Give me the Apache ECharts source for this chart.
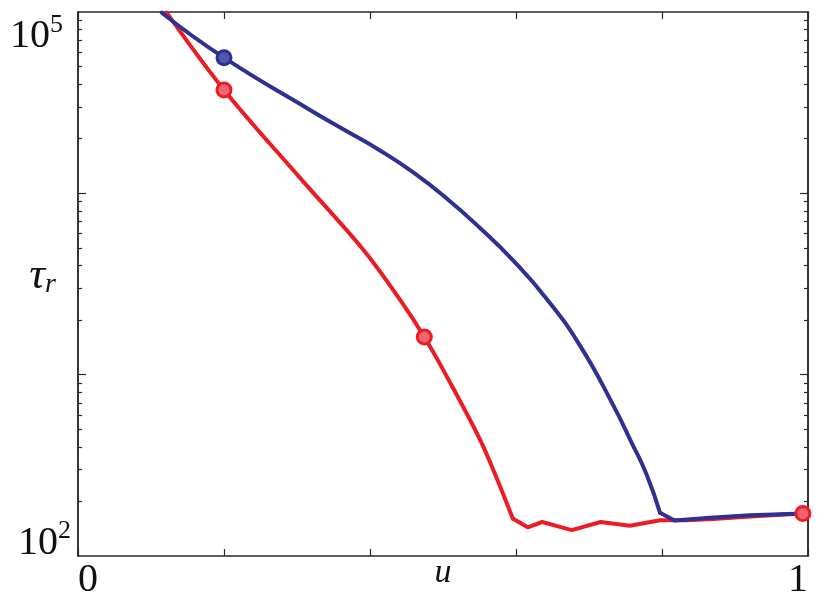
<!DOCTYPE html>
<html><head><meta charset="utf-8">
<script src="https://cdn.jsdelivr.net/npm/echarts@6/dist/echarts.min.js"></script>
<style>html,body{margin:0;padding:0;background:#fff}#c{width:831px;height:599px}</style>
</head><body><div id="c"></div>
<script>
// ---- data ----
const redU   = [0.1215, 0.2, 0.3041, 0.3908, 0.4411, 0.4744, 0.5051, 0.5507, 0.5781, 0.5955, 0.616, 0.636, 0.6763, 0.716, 0.7562, 0.7973, 0.8338, 0.87, 0.9205, 0.993];
const redTau = [99100, 37170, 12170, 4884, 2590, 1613, 979, 438.5, 242.4, 160.9, 144, 154, 139, 154, 147, 157.5, 157.5, 160, 165, 171.4];
const blueU   = [0.1147, 0.2, 0.3178, 0.3658, 0.4137, 0.4593, 0.5051, 0.5507, 0.5963, 0.6421, 0.6877, 0.7333, 0.7585, 0.779, 0.7973, 0.8171, 0.8658, 0.9205, 0.993];
const blueTau = [99100, 56000, 28840, 22295, 17240, 13040, 9374, 6439, 4258, 2616, 1446, 677, 421, 281, 173, 157, 162.4, 167.8, 171.4];
const redMarkU = [0.2, 0.4744, 0.993];
const redMarkTau = [37170, 1613, 171.4];
const blueMarkU = [0.2];
const blueMarkTau = [56000];
const xLabelValues = [0, 1];
const yLabelTop = [100000];
const yLabelBottom = [100];
const yMajorTicks = [1000, 10000];
const yDecades = [100, 1000, 10000];
const yMinorTicks = [];
yDecades.forEach(d => { for (let m = 2; m <= 9; m++) yMinorTicks.push(m * d); });
// index where each curve leaves its smooth descent and becomes a jagged plateau
const redBreak = 9;
const blueBreak = 14;

const zip = (a, b) => a.map((v, i) => [v, b[i]]);
const FONT = '"Liberation Serif", "DejaVu Serif", serif';
const AX = '#2a2a2a';
const RED = '#ec1c24', BLUE = '#2e3192';

const lineStyleAx = { color: AX, width: 1.5 };
function yAx(pos, ticks, len, labelCfg) {
  return {
    type: 'log', logBase: 10, min: 100, max: 100000, position: pos,
    axisLine: { show: true, onZero: false, lineStyle: lineStyleAx },
    axisTick: { show: true, inside: true, length: len, customValues: ticks, lineStyle: { color: AX, width: 1.2 } },
    axisLabel: labelCfg || { show: false },
    splitLine: { show: false }, minorTick: { show: false }, minorSplitLine: { show: false }
  };
}
const yRich = {
  m: { fontSize: 40, lineHeight: 49, fontFamily: FONT, color: '#111' },
  s: { fontSize: 26, lineHeight: 26, fontFamily: FONT, color: '#111', verticalAlign: 'top' }
};
const yFmt = v => '{m|10}{s|' + Math.round(Math.log10(v)) + '}';

const y0 = yAx('left', yMajorTicks, 8, {
  show: true, customValues: yLabelTop, formatter: yFmt, rich: yRich,
  margin: 15, verticalAlign: 'top'
});
y0.name = '{t|τ}{r|r}';
y0.nameLocation = 'middle';
y0.nameRotate = 0;
y0.nameGap = 22;
y0.nameMoveOverlap = false;
y0.nameTextStyle = {
  padding: [0, 0, 16, 0],
  rich: {
    t: { fontSize: 44, fontStyle: 'italic', fontFamily: FONT, color: '#111', lineHeight: 46, verticalAlign: 'middle' },
    r: { fontSize: 28, fontStyle: 'italic', fontFamily: FONT, color: '#111', lineHeight: 26, verticalAlign: 'bottom' }
  }
};
const y1 = yAx('left', yMinorTicks, 4, {
  show: true, customValues: yLabelBottom, formatter: yFmt, rich: yRich,
  margin: 7, verticalAlign: 'middle', padding: [0, 0, 26, 0]
});
const y2 = yAx('right', yMajorTicks, 8);
const y3 = yAx('right', yMinorTicks, 4);

function xAx(pos, labelCfg) {
  return {
    type: 'value', min: 0, max: 1, interval: 0.2, position: pos,
    axisLine: { show: true, onZero: false, lineStyle: lineStyleAx },
    axisTick: { show: true, inside: true, length: 7, lineStyle: { color: AX, width: 1.2 } },
    axisLabel: labelCfg || { show: false },
    splitLine: { show: false }
  };
}
const x0 = xAx('bottom', {
  show: true, customValues: xLabelValues, margin: 4,
  fontSize: 40, lineHeight: 40, fontFamily: FONT, color: '#111',
  alignMinLabel: 'left', alignMaxLabel: 'right',
  formatter: v => String(v)
});
x0.name = 'u';
x0.nameLocation = 'middle';
x0.nameGap = 0;
x0.nameMoveOverlap = false;
x0.nameTextStyle = { fontSize: 34, fontStyle: 'italic', fontFamily: FONT, color: '#111', lineHeight: 34 };
const x1 = xAx('top');

const redPts = zip(redU, redTau);
const bluePts = zip(blueU, blueTau);
const lineCommon = { xAxisIndex: 0, yAxisIndex: 0, showSymbol: false, symbol: 'none', type: 'line' };

const chart = echarts.init(document.getElementById('c'), null, { renderer: 'canvas' });
chart.setOption({
  backgroundColor: '#fff',
  animation: false,
  grid: { left: 78, right: 23, top: 12, bottom: 43, containLabel: false, outerBoundsMode: 'none' },
  xAxis: [x0, x1],
  yAxis: [y0, y1, y2, y3],
  series: [
    Object.assign({}, lineCommon, { data: redPts.slice(0, redBreak + 1), smooth: 0.35, lineStyle: { color: RED, width: 4, cap: 'round', join: 'round' }, z: 2 }),
    Object.assign({}, lineCommon, { data: redPts.slice(redBreak), smooth: false, lineStyle: { color: RED, width: 4, cap: 'round', join: 'round' }, z: 2 }),
    Object.assign({}, lineCommon, { data: bluePts.slice(0, blueBreak + 1), smooth: 0.5, lineStyle: { color: BLUE, width: 4, cap: 'round', join: 'round' }, z: 3 }),
    Object.assign({}, lineCommon, { data: bluePts.slice(blueBreak), smooth: false, lineStyle: { color: BLUE, width: 4, cap: 'round', join: 'round' }, z: 3 }),
    { type: 'scatter', data: zip(blueMarkU, blueMarkTau), xAxisIndex: 0, yAxisIndex: 0, symbol: 'circle', symbolSize: 14,
      itemStyle: { color: '#5057ac', borderColor: BLUE, borderWidth: 3, opacity: 1 }, z: 4 },
    { type: 'scatter', data: zip(redMarkU, redMarkTau), xAxisIndex: 0, yAxisIndex: 0, symbol: 'circle', symbolSize: 14,
      itemStyle: { color: '#f26470', borderColor: RED, borderWidth: 3, opacity: 1 }, z: 4 }
  ]
});
</script></body></html>
